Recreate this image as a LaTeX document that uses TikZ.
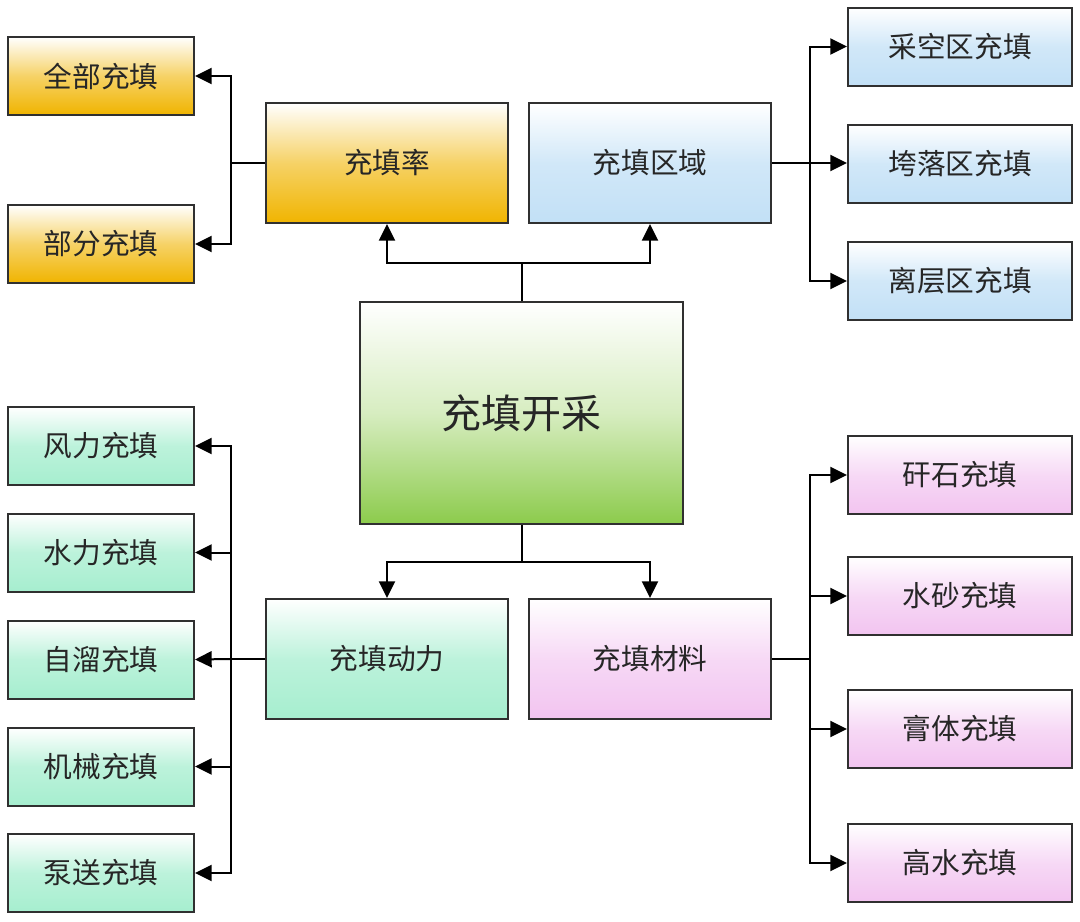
\documentclass[tikz,border=0pt]{standalone}
\usepackage{fontspec}
\newfontfamily\cjk{Noto Sans CJK SC}
\usetikzlibrary{arrows.meta}
\definecolor{orangeB}{HTML}{F0B400}
\definecolor{blueB}{HTML}{C2E0F6}
\definecolor{greenB}{HTML}{8CCB4C}
\definecolor{tealB}{HTML}{A6EECF}
\definecolor{pinkB}{HTML}{F2C4F0}
\definecolor{edge}{HTML}{303030}
\tikzset{
  box/.style={draw=edge, line width=1.5pt, rectangle, inner sep=0pt, font=\cjk\fontsize{21.5}{21.5}\selectfont, text=black!85},
  sbox/.style={box, minimum width=139.5pt, minimum height=58.5pt},
  mbox/.style={box, minimum width=181.5pt, minimum height=90pt},
  rbox/.style={box, minimum width=168pt, minimum height=58.5pt},
  orangefill/.style={top color=white, bottom color=orangeB, middle color=orangeB!60},
  bluefill/.style={top color=white, bottom color=blueB, middle color=blueB!75},
  greenfill/.style={top color=white, bottom color=greenB, middle color=greenB!35},
  tealfill/.style={top color=white, bottom color=tealB, middle color=tealB!75},
  pinkfill/.style={top color=white, bottom color=pinkB, middle color=pinkB!65},
  conn/.style={draw=black, line width=1.5pt},
  arr/.style={conn, -{Triangle[length=12.5pt,width=12pt]}}
}
\begin{document}
\begin{tikzpicture}[x=0.75pt,y=-0.75pt]
\useasboundingbox (0,0) rectangle (1080,921);
\fill[white] (0,0) rectangle (1080,921);
% center
\node[box, greenfill, minimum width=242pt, minimum height=166.5pt, font=\cjk\fontsize{30}{30}\selectfont] (c) at (521.5,413) {充填开采};
% second level
\node[mbox, orangefill] (rate) at (387,163) {充填率};
\node[mbox, bluefill] (area) at (650,163) {充填区域};
\node[mbox, tealfill] (power) at (387,659) {充填动力};
\node[mbox, pinkfill] (mat) at (650,659) {充填材料};
% left top
\node[sbox, orangefill] (q1) at (101,76) {全部充填};
\node[sbox, orangefill] (q2) at (101,244) {部分充填};
% right top
\node[rbox, bluefill] (z1) at (960,46.5) {采空区充填};
\node[rbox, bluefill] (z2) at (960,164) {垮落区充填};
\node[rbox, bluefill] (z3) at (960,281) {离层区充填};
% left bottom
\node[sbox, tealfill] (p1) at (101,446) {风力充填};
\node[sbox, tealfill] (p2) at (101,552.5) {水力充填};
\node[sbox, tealfill] (p3) at (101,659.5) {自溜充填};
\node[sbox, tealfill] (p4) at (101,766.5) {机械充填};
\node[sbox, tealfill] (p5) at (101,873) {泵送充填};
% right bottom
\node[rbox, pinkfill] (m1) at (960,475) {矸石充填};
\node[rbox, pinkfill] (m2) at (960,596) {水砂充填};
\node[rbox, pinkfill] (m3) at (960,729) {膏体充填};
\node[rbox, pinkfill] (m4) at (960,863) {高水充填};
% coordinates
\coordinate (ct) at (521.5,263);
\coordinate (cb) at (521.5,562);
\coordinate (lb1) at (231,163);
\coordinate (rb1) at (810,163);
\coordinate (lb2) at (231,659);
\coordinate (rb2) at (810,659);
% connectors center
\draw[conn] (c.north) -- (ct);
\draw[arr] (ct) -| (rate.south);
\draw[arr] (ct) -| (area.south);
\draw[conn] (c.south) -- (cb);
\draw[arr] (cb) -| (power.north);
\draw[arr] (cb) -| (mat.north);
% rate
\draw[conn] (rate.west) -- (lb1);
\draw[arr] (lb1) |- (q1.east);
\draw[arr] (lb1) |- (q2.east);
% area
\draw[conn] (area.east) -- (rb1);
\draw[arr] (rb1) |- (z1.west);
\draw[arr] (rb1) -- (z2.west |- rb1);
\draw[arr] (rb1) |- (z3.west);
% power
\draw[conn] (power.west) -- (lb2);
\draw[arr] (lb2) |- (p1.east);
\draw[arr] (lb2) |- (p2.east);
\draw[arr] (lb2) -- (p3.east);
\draw[arr] (lb2) |- (p4.east);
\draw[arr] (lb2) |- (p5.east);
% material
\draw[conn] (mat.east) -- (rb2);
\draw[arr] (rb2) |- (m1.west);
\draw[arr] (rb2) |- (m2.west);
\draw[arr] (rb2) |- (m3.west);
\draw[arr] (rb2) |- (m4.west);
\end{tikzpicture}
\end{document}
